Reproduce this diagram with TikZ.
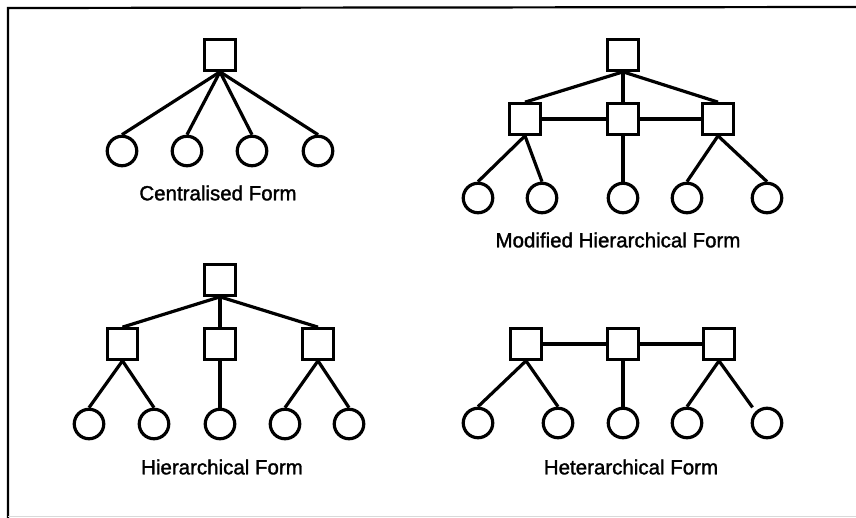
\documentclass[tikz,border=0pt]{standalone}
\usepackage{fontspec}
\setmainfont{Liberation Sans}
\begin{document}
\begin{tikzpicture}[x=1pt,y=-1pt,
  sq/.style={draw, line width=3.2pt, minimum size=30.5pt, inner sep=0pt, rectangle},
  circ/.style={draw, line width=3.2pt, circle, minimum size=29.5pt, inner sep=0pt},
  link/.style={line width=3.2pt},
  lbl/.style={inner sep=0pt, font=\fontsize{20.5}{24}\selectfont\addfontfeature{FakeBold=1.5}},
  frame/.style={line width=2.2pt}]
\useasboundingbox (0,0) rectangle (856,518);
% frame
\coordinate (fTL) at (8,8);
\coordinate (fTR) at (856,7);
\coordinate (fBL) at (8,518);
\coordinate (bL) at (8,516);
\coordinate (bR) at (856,516);
\draw[frame] (fBL) -- (fTL) -- (fTR);
\draw[line width=1pt, black!15] (bL) -- (bR);

% Centralised form
\node[sq] (c0) at (220,55) {};
\node[circ] (c1) at (122,151) {};
\node[circ] (c2) at (187,151) {};
\node[circ] (c3) at (252,151) {};
\node[circ] (c4) at (318,151) {};
\foreach \i in {1,...,4} \draw[link] (c0.south) -- (c\i.north);
\node[lbl] (cl) at (218,193) {Centralised Form};

% Modified hierarchical form
\node[sq] (m0) at (623,55) {};
\node[sq] (m1) at (525,119) {};
\node[sq] (m2) at (623,119) {};
\node[sq] (m3) at (718,119) {};
\node[circ] (ma) at (478,198) {};
\node[circ] (mb) at (542,198) {};
\node[circ] (mc) at (623,198) {};
\node[circ] (md) at (687,198) {};
\node[circ] (me) at (767,198) {};
\draw[link] (m0.south) -- (m1.north);
\draw[link] (m0.south) -- (m2.north);
\draw[link] (m0.south) -- (m3.north);
\draw[link] (m1.east) -- (m2.west);
\draw[link] (m2.east) -- (m3.west);
\draw[link] (m1.south) -- (ma.north);
\draw[link] (m1.south) -- (mb.north);
\draw[link] (m2.south) -- (mc.north);
\draw[link] (m3.south) -- (md.north);
\draw[link] (m3.south) -- (me.north);
\node[lbl] (ml) at (618,240) {Modified Hierarchical Form};

% Hierarchical form
\node[sq] (h0) at (220,280) {};
\node[sq] (h1) at (122.5,344) {};
\node[sq] (h2) at (220,344) {};
\node[sq] (h3) at (318,344) {};
\node[circ] (ha) at (89,424) {};
\node[circ] (hb) at (154,424) {};
\node[circ] (hc) at (220,424) {};
\node[circ] (hd) at (285,424) {};
\node[circ] (he) at (349,424) {};
\draw[link] (h0.south) -- (h1.north);
\draw[link] (h0.south) -- (h2.north);
\draw[link] (h0.south) -- (h3.north);
\draw[link] (h1.south) -- (ha.north);
\draw[link] (h1.south) -- (hb.north);
\draw[link] (h2.south) -- (hc.north);
\draw[link] (h3.south) -- (hd.north);
\draw[link] (h3.south) -- (he.north);
\node[lbl] (hl) at (222,467) {Hierarchical Form};

% Heterarchical form
\node[sq] (t1) at (526,344) {};
\node[sq] (t2) at (623,344) {};
\node[sq] (t3) at (719,344) {};
\node[circ] (ta) at (478,423) {};
\node[circ] (tb) at (558,423) {};
\node[circ] (tc) at (623,423) {};
\node[circ] (td) at (687,423) {};
\node[circ] (te) at (767,423) {};
\draw[link] (t1.east) -- (t2.west);
\draw[link] (t2.east) -- (t3.west);
\draw[link] (t1.south) -- (ta.north);
\draw[link] (t1.south) -- (tb.north);
\draw[link] (t2.south) -- (tc.north);
\draw[link] (t3.south) -- (td.north);
\draw[link, shorten >=5pt] (t3.south) -- (te.north west);
\node[lbl] (tl) at (631,467) {Heterarchical Form};
\end{tikzpicture}
\end{document}
